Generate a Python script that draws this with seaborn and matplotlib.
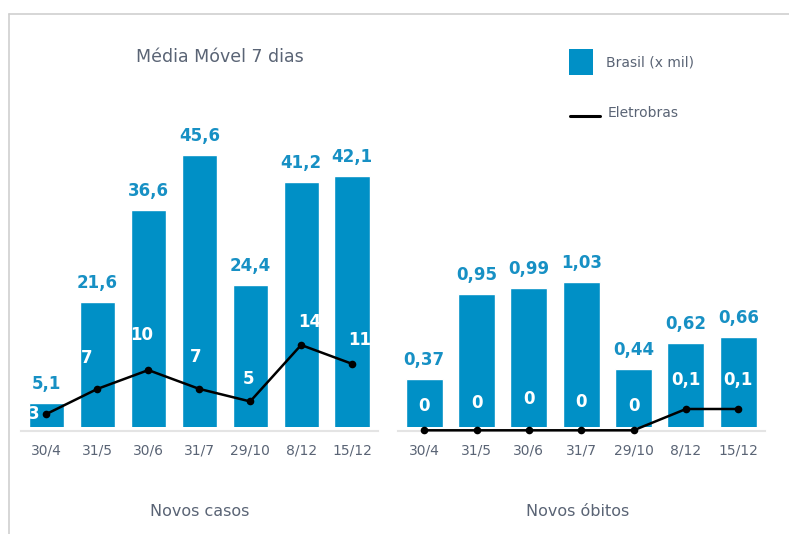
import matplotlib
matplotlib.use("Agg")
import matplotlib.pyplot as plt
import seaborn as sns
import numpy as np
import pandas as pd
from matplotlib.lines import Line2D
from matplotlib.patches import Rectangle

# ---- data ----
dates = ["30/4", "31/5", "30/6", "31/7", "29/10", "8/12", "15/12"]
casos_brasil = [5.1, 21.6, 36.6, 45.6, 24.4, 41.2, 42.1]
casos_eletrobras = [3, 7, 10, 7, 5, 14, 11]
obitos_brasil = [0.37, 0.95, 0.99, 1.03, 0.44, 0.62, 0.66]
obitos_eletrobras = [0, 0, 0, 0, 0, 0.1, 0.1]

title = "Média Móvel 7 dias"
panel_titles = ["Novos casos", "Novos óbitos"]
legend_labels = ["Brasil (x mil)", "Eletrobras"]

# ---- style ----
BLUE = "#0090c6"
LABEL_BLUE = "#1790c4"
GRAY_TXT = "#5a6475"
W, H = 789, 534

sns.set_theme(style="white")
plt.rcParams["font.family"] = ["DejaVu Sans"]

fig = plt.figure(figsize=(W / 100, H / 100), dpi=100)


def fx(px):
    return px / W


def fy(py):
    return 1 - py / H


def fmt(v):
    s = f"{v:g}"
    return s.replace(".", ",")


def panel(x0, x1, bars, line, bar_ylim, line_ylim, width, line_dx, line_dy):
    ax = fig.add_axes([fx(x0), fy(427), fx(x1 - x0), fy(128) - fy(427)])
    df = pd.DataFrame({"date": dates, "v": bars})
    sns.barplot(data=df, x="date", y="v", color=BLUE, saturation=1,
                width=width, ax=ax, errorbar=None)
    ax.set_xlim(-0.5, len(dates) - 0.5)
    ax.set_ylim(*bar_ylim)
    ax.set_xlabel("")
    ax.set_ylabel("")
    ax.set_yticks([])
    for s in ["top", "left", "right"]:
        ax.spines[s].set_visible(False)
    ax.spines["bottom"].set_position(("outward", 3))
    ax.spines["bottom"].set_color("#e4e4e4")
    ax.spines["bottom"].set_linewidth(1.5)
    ax.tick_params(axis="x", length=0, pad=9, labelsize=10, labelcolor=GRAY_TXT)
    for i, v in enumerate(bars):
        ax.annotate(fmt(v), (i, v), xytext=(0, 19 * 0.72), textcoords="offset points",
                    ha="center", va="center", fontsize=12, fontweight="bold",
                    color=LABEL_BLUE, annotation_clip=False)

    ax2 = ax.twinx()
    sns.lineplot(x=np.arange(len(dates)), y=line, ax=ax2, color="black",
                 linewidth=1.8, marker="o", markersize=5.5,
                 markeredgewidth=0, markerfacecolor="black", clip_on=False)
    ax2.set_ylim(*line_ylim)
    ax2.set_xlim(-0.5, len(dates) - 0.5)
    ax2.set_yticks([])
    ax2.set_ylabel("")
    for s in ax2.spines.values():
        s.set_visible(False)
    for i, v in enumerate(line):
        ax2.annotate(fmt(v), (i, v),
                     xytext=(line_dx[i] * 0.72, line_dy[i] * 0.72),
                     textcoords="offset points", ha="center", va="center",
                     fontsize=12, fontweight="bold", color="white",
                     annotation_clip=False)
    return ax, ax2


panel(21, 377.5, casos_brasil, casos_eletrobras,
      (1.14, 50.0), (0.925, 48.6), 0.69,
      [-13, -11, -7, -4, -2, 9, 8], [0, 31, 35, 32, 22, 23, 24])
panel(398, 764.5, obitos_brasil, obitos_eletrobras,
      (0.0456, 2.08), (0.0155, 1.419), 0.707,
      [0, 0, 0, 0, 0, 0, 0], [24, 27, 31, 28, 24, 29, 29])

# titles
fig.text(fx(220), fy(57), title, ha="center", va="center", fontsize=12.5,
         color=GRAY_TXT)
fig.text(fx(200), fy(511), panel_titles[0], ha="center", va="center",
         fontsize=11.5, color=GRAY_TXT)
fig.text(fx(578), fy(511), panel_titles[1], ha="center", va="center",
         fontsize=11.5, color=GRAY_TXT)

# legend
fig.patches.append(Rectangle((fx(569), fy(75)), fx(24), fy(49) - fy(75),
                             transform=fig.transFigure, facecolor=BLUE,
                             edgecolor="none"))
fig.text(fx(606), fy(62), legend_labels[0], ha="left", va="center",
         fontsize=10, color=GRAY_TXT)
fig.lines.append(Line2D([fx(570), fx(600)], [fy(116), fy(116)],
                        transform=fig.transFigure, color="black", linewidth=2.2))
fig.text(fx(608), fy(113), legend_labels[1], ha="left", va="center",
         fontsize=10, color=GRAY_TXT)

# frame lines
fig.lines.append(Line2D([fx(9), 1], [fy(14), fy(14)], transform=fig.transFigure,
                        color="#cfcfcf", linewidth=1.2))
fig.lines.append(Line2D([fx(9), fx(9)], [fy(14), 0], transform=fig.transFigure,
                        color="#cfcfcf", linewidth=1.2))

fig.savefig("out.png", dpi=100)
